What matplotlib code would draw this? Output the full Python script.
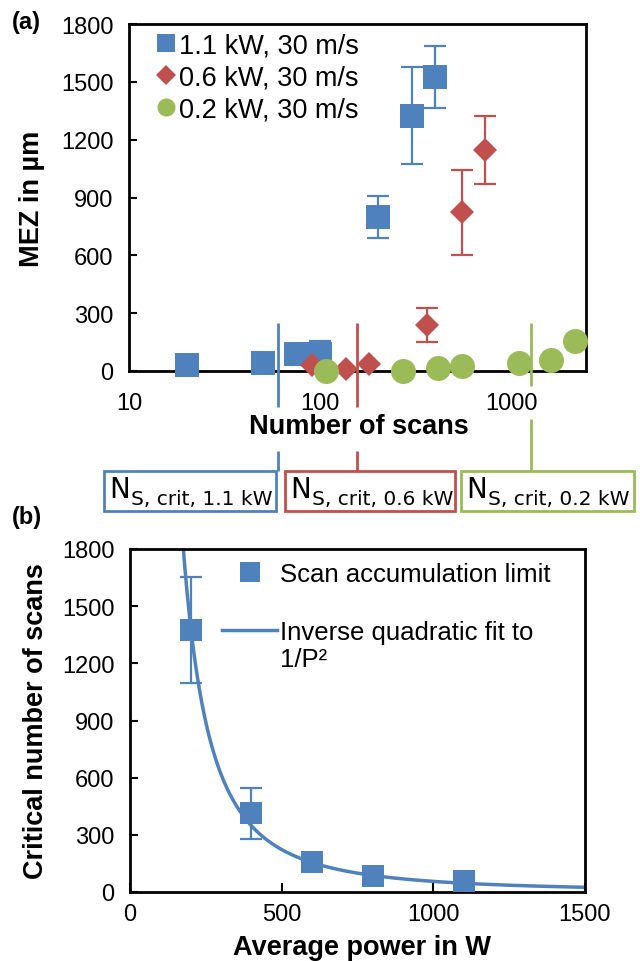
import numpy as np
import matplotlib
matplotlib.use("Agg")
import matplotlib.pyplot as plt
from matplotlib.lines import Line2D
from matplotlib.patches import Rectangle
from matplotlib.transforms import blended_transform_factory

plt.rcParams['font.family'] = ['Liberation Sans', 'DejaVu Sans']

# ---------------- data ----------------
# (a) MEZ vs number of scans
scans_11 = [20, 50, 75, 100, 200, 300, 400]
mez_11 = [30, 40, 88, 88, 800, 1325, 1525]
err_11 = [0, 0, 0, 67, 110, 253, 162]

scans_06 = [90, 136, 180, 360, 550, 725]
mez_06 = [30, 10, 38, 238, 823, 1146]
err_06 = [0, 0, 0, 88, 222, 175]

scans_02 = [107, 271, 412, 548, 1100, 1600, 2150]
mez_02 = [0, 0, 14, 26, 44, 56, 158]

labels_a = ["1.1 kW, 30 m/s", "0.6 kW, 30 m/s", "0.2 kW, 30 m/s"]
crit_scans = [60, 155, 1260]
crit_labels = ["S, crit, 1.1 kW", "S, crit, 0.6 kW", "S, crit, 0.2 kW"]

# (b) critical number of scans vs average power
power = [200, 400, 600, 800, 1100]
n_crit = [1375, 412, 158, 84, 56]
n_crit_err = [278, 135, 0, 0, 0]
labels_b = ["Scan accumulation limit", "Inverse quadratic fit to"]

BLUE = "#4F81BD"
RED = "#C0504D"
GREEN = "#9BBB59"

W, H = 640, 962
fig = plt.figure(figsize=(W / 100, H / 100), dpi=100)


def fx(px):
    return px / W


def fy(py):
    return 1 - py / H


def style_axes(ax):
    for s in ax.spines.values():
        s.set_linewidth(2.0)
        s.set_color("black")


TICK_FS = 17
LABEL_FS = 19.5

# ---------------- panel (a) ----------------
ax1 = fig.add_axes([fx(129), fy(372), fx(586) - fx(129), fy(25) - fy(372)])
style_axes(ax1)
ax1.set_xscale("log")
ax1.set_xlim(10, 2450)
ax1.set_ylim(0, 1800)
ax1.set_yticks(np.arange(0, 1801, 300))
ax1.set_xticks([10, 100, 1000])
ax1.set_xticklabels(["10", "100", "1000"])
ax1.xaxis.set_minor_locator(matplotlib.ticker.NullLocator())
ax1.tick_params(axis="x", direction="in", length=0, pad=15, labelsize=TICK_FS)
ax1.tick_params(axis="y", direction="in", length=6, width=1.5, pad=11, labelsize=TICK_FS)

for xs, ys, es, c in [(scans_11, mez_11, err_11, BLUE), (scans_06, mez_06, err_06, RED)]:
    ax1.errorbar(xs, ys, yerr=es, fmt="none", ecolor=c, elinewidth=1.6,
                 capsize=8, capthick=1.6, clip_on=False, zorder=3)
ax1.plot(scans_11, mez_11, "s", color=BLUE, ms=17, mew=0, clip_on=False, zorder=4)
ax1.plot(scans_06, mez_06, "D", color=RED, ms=12, mew=0, clip_on=False, zorder=4)
ax1.plot(scans_02, mez_02, "o", color=GREEN, ms=18, mew=0, clip_on=False, zorder=4)

handles_a = [Line2D([], [], ls="none", marker="s", color=BLUE, ms=12.5, mew=0),
             Line2D([], [], ls="none", marker="D", color=RED, ms=10.5, mew=0),
             Line2D([], [], ls="none", marker="o", color=GREEN, ms=13, mew=0)]
ax1.legend(handles_a, labels_a, loc="upper left", bbox_to_anchor=(0.059, 0.975),
           frameon=False, fontsize=19.5, handlelength=0.75, handletextpad=0.1,
           borderaxespad=0, borderpad=0, labelspacing=0.22)

ax1.set_xlabel("Number of scans", fontsize=LABEL_FS, fontweight="bold", va="center")
ax1.xaxis.set_label_coords(0.503, -0.1585)
ax1.set_ylabel("MEZ in µm", fontsize=LABEL_FS, fontweight="bold", va="center")
ax1.yaxis.set_label_coords(-0.212, 0.5)

# critical-scan marker lines and boxes
btr = blended_transform_factory(ax1.transData, fig.transFigure)
crit_colors = [BLUE, RED, GREEN]
segments = [[(324, 408), (452, 472)],
            [(324, 408), (452, 472)],
            [(324, 387), (420, 472)]]
for xc, c, segs in zip(crit_scans, crit_colors, segments):
    for (y0, y1) in segs:
        fig.add_artist(Line2D([xc, xc], [fy(y0), fy(y1)], transform=btr,
                              color=c, lw=2.0, solid_capstyle="butt"))

boxes = [(104, 276), (285, 455), (461, 634)]
for (x0, x1), c, lab in zip(boxes, crit_colors, crit_labels):
    fig.add_artist(Rectangle((fx(x0), fy(512)), fx(x1) - fx(x0), fy(472) - fy(512),
                             transform=fig.transFigure, fill=False, edgecolor=c, lw=2.0))
    fig.text(fx(x0 + 5), fy(498), "N", family="DejaVu Sans", fontsize=20,
             va="baseline", ha="left")
    fig.text(fx(x0 + 27), fy(505), lab, family="DejaVu Sans", fontsize=14.5,
             va="baseline", ha="left")

fig.text(fx(12), fy(22), "(a)", fontsize=17, fontweight="bold", va="center", ha="left")
fig.text(fx(12), fy(518), "(b)", fontsize=17, fontweight="bold", va="center", ha="left")

# ---------------- panel (b) ----------------
ax2 = fig.add_axes([fx(130), fy(893), fx(585) - fx(130), fy(550) - fy(893)])
style_axes(ax2)
ax2.set_xlim(0, 1500)
ax2.set_ylim(0, 1800)
ax2.set_xticks([0, 500, 1000, 1500])
ax2.set_yticks(np.arange(0, 1801, 300))
ax2.tick_params(axis="x", direction="in", length=6.5, width=1.5, pad=8, labelsize=TICK_FS)
ax2.tick_params(axis="y", direction="in", length=6, width=1.5, pad=11, labelsize=TICK_FS)

p_arr = np.array(power, dtype=float)
n_arr = np.array(n_crit, dtype=float)
a_fit = np.sum(n_arr / p_arr**2) / np.sum(1 / p_arr**4)
p_fit = np.linspace(150, 1500, 500)
ax2.plot(p_fit, a_fit / p_fit**2, color=BLUE, lw=2.5, zorder=2)

ax2.errorbar(power, n_crit, yerr=n_crit_err, fmt="none", ecolor=BLUE, elinewidth=1.6,
             capsize=8, capthick=1.6, zorder=3)
ax2.plot(power, n_crit, "s", color=BLUE, ms=16.5, mew=0, clip_on=False, zorder=4)

handles_b = [Line2D([], [], ls="none", marker="s", color=BLUE, ms=14, mew=0),
             Line2D([], [], color=BLUE, lw=2.5)]
ax2.legend(handles_b, labels_b, loc="upper left", bbox_to_anchor=(0.202, 0.962),
           frameon=False, fontsize=18.5, handlelength=2.15, handletextpad=0.12,
           borderaxespad=0, borderpad=0, labelspacing=1.33)
ax2.text((280 - 130) / 455, (893 - 660) / 343, "1/P²", transform=ax2.transAxes,
         fontsize=18.5, va="center", ha="left")

ax2.set_xlabel("Average power in W", fontsize=LABEL_FS, fontweight="bold", va="center")
ax2.xaxis.set_label_coords(0.509, -0.160)
ax2.set_ylabel("Critical number of scans", fontsize=LABEL_FS, fontweight="bold", va="center")
ax2.yaxis.set_label_coords(-0.2066, 0.5)

fig.savefig("out.png", dpi=100)
